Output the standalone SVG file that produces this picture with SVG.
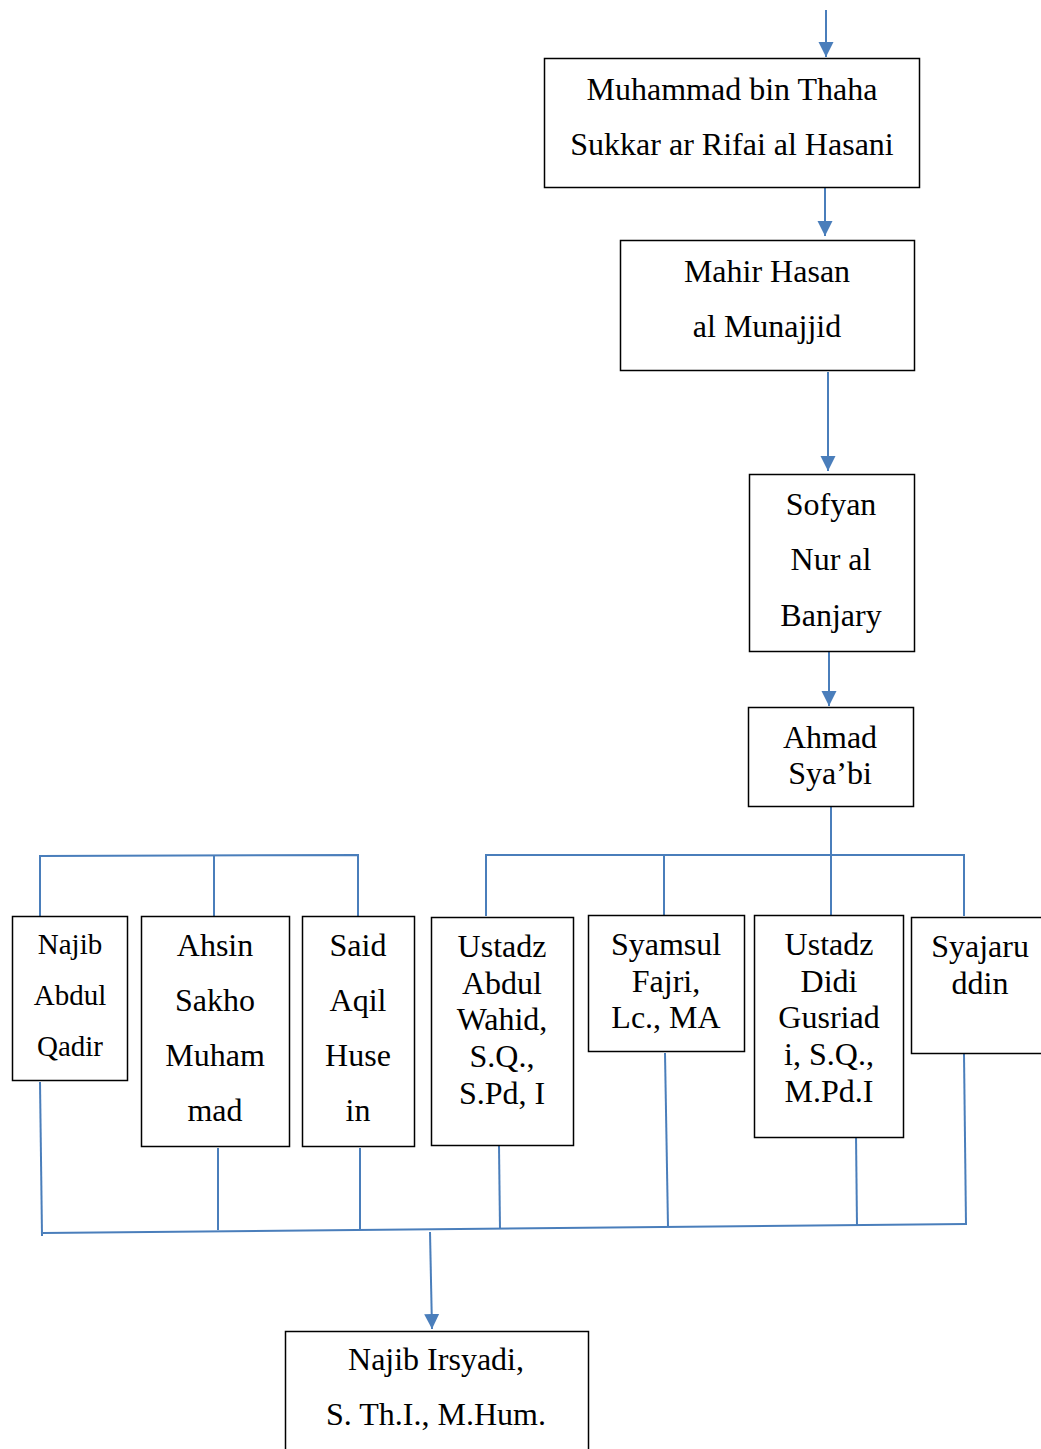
<svg xmlns="http://www.w3.org/2000/svg" width="1041" height="1449" viewBox="0 0 1041 1449">
<defs>
<style>
.box{fill:#fff;stroke:#000;stroke-width:1.5}
.t{font-family:"Liberation Serif","Times New Roman",serif;font-size:32px;fill:#000;text-anchor:middle}
.s{font-size:29px}
.c{fill:none;stroke:#4a7ebb;stroke-width:2}
</style>
<marker id="ah" viewBox="0 0 10 10" refX="10" refY="5" markerWidth="15" markerHeight="16" markerUnits="userSpaceOnUse" orient="auto">
<path d="M0,0 L10,5 L0,10 z" fill="#4a7ebb"/>
</marker>
</defs>
<rect width="1041" height="1449" fill="#fff"/>
<g id="connectors">
<line class="c" x1="826" y1="10" x2="826" y2="57" marker-end="url(#ah)"/>
<line class="c" x1="825" y1="188" x2="825" y2="236" marker-end="url(#ah)"/>
<line class="c" x1="828" y1="372" x2="828" y2="471" marker-end="url(#ah)"/>
<line class="c" x1="829" y1="652" x2="829" y2="706" marker-end="url(#ah)"/>
<line class="c" x1="831" y1="806" x2="831" y2="915"/>
<polyline class="c" points="486,916 486,855 964,855 964,916"/>
<line class="c" x1="664" y1="855" x2="664" y2="915"/>
<polyline class="c" points="40,916 40,856 358,855 358,916"/>
<line class="c" x1="214" y1="856" x2="214" y2="916"/>
<line class="c" x1="40" y1="1082" x2="42" y2="1236"/>
<line class="c" x1="218" y1="1148" x2="218" y2="1230"/>
<line class="c" x1="360" y1="1148" x2="360" y2="1230"/>
<line class="c" x1="499" y1="1146" x2="500" y2="1229"/>
<line class="c" x1="665" y1="1053" x2="668" y2="1227"/>
<line class="c" x1="856" y1="1135" x2="857" y2="1226"/>
<line class="c" x1="964" y1="1054" x2="966" y2="1225"/>
<line class="c" x1="43" y1="1233" x2="966" y2="1224"/>
<line class="c" x1="430" y1="1232" x2="432" y2="1329" marker-end="url(#ah)"/>
</g>
<g id="n1">
<rect class="box" x="544.5" y="58.5" width="375" height="129"/>
<text class="t" x="732" y="100">Muhammad bin Thaha</text>
<text class="t" x="732" y="155">Sukkar ar Rifai al Hasani</text>
</g>
<g id="n2">
<rect class="box" x="620.5" y="240.5" width="294" height="130"/>
<text class="t" x="767" y="282">Mahir Hasan</text>
<text class="t" x="767" y="337">al Munajjid</text>
</g>
<g id="n3">
<rect class="box" x="749.5" y="474.5" width="165" height="177"/>
<text class="t" x="831" y="515">Sofyan</text>
<text class="t" x="831" y="570">Nur al</text>
<text class="t" x="831" y="626">Banjary</text>
</g>
<g id="n4">
<rect class="box" x="748.5" y="707.5" width="165" height="99"/>
<text class="t" x="830" y="748">Ahmad</text>
<text class="t" x="830" y="784">Sya’bi</text>
</g>
<g id="n5">
<rect class="box" x="12.5" y="916.5" width="115" height="164"/>
<text class="t s" x="70" y="954">Najib</text>
<text class="t s" x="70" y="1005">Abdul</text>
<text class="t s" x="70" y="1056">Qadir</text>
</g>
<g id="n6">
<rect class="box" x="141.5" y="916.5" width="148" height="230"/>
<text class="t" x="215" y="956">Ahsin</text>
<text class="t" x="215" y="1011">Sakho</text>
<text class="t" x="215" y="1066">Muham</text>
<text class="t" x="215" y="1121">mad</text>
</g>
<g id="n7">
<rect class="box" x="302.5" y="916.5" width="112" height="230"/>
<text class="t" x="358" y="956">Said</text>
<text class="t" x="358" y="1011">Aqil</text>
<text class="t" x="358" y="1066">Huse</text>
<text class="t" x="358" y="1121">in</text>
</g>
<g id="n8">
<rect class="box" x="431.5" y="917.5" width="142" height="228"/>
<text class="t" x="502" y="957">Ustadz</text>
<text class="t" x="502" y="994">Abdul</text>
<text class="t" x="502" y="1030">Wahid,</text>
<text class="t" x="502" y="1067">S.Q.,</text>
<text class="t" x="502" y="1104">S.Pd, I</text>
</g>
<g id="n9">
<rect class="box" x="588.5" y="915.5" width="156" height="136"/>
<text class="t" x="666" y="955">Syamsul</text>
<text class="t" x="666" y="992">Fajri,</text>
<text class="t" x="666" y="1028">Lc., MA</text>
</g>
<g id="n10">
<rect class="box" x="754.5" y="915.5" width="149" height="222"/>
<text class="t" x="829" y="955">Ustadz</text>
<text class="t" x="829" y="992">Didi</text>
<text class="t" x="829" y="1028">Gusriad</text>
<text class="t" x="829" y="1065">i, S.Q.,</text>
<text class="t" x="829" y="1102">M.Pd.I</text>
</g>
<g id="n11">
<rect class="box" x="911.5" y="917.5" width="140" height="136"/>
<text class="t" x="980" y="957">Syajaru</text>
<text class="t" x="980" y="994">ddin</text>
</g>
<g id="n12">
<rect class="box" x="285.5" y="1331.5" width="303" height="130"/>
<text class="t" x="436" y="1370">Najib Irsyadi,</text>
<text class="t" x="436" y="1425">S. Th.I., M.Hum.</text>
</g>
</svg>
